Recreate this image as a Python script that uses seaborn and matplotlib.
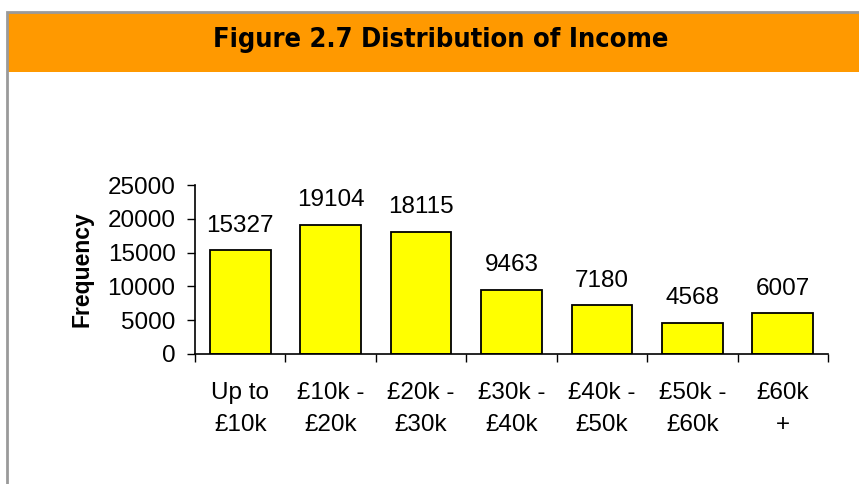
import matplotlib
matplotlib.use('Agg')
import matplotlib.pyplot as plt
import matplotlib.patches as mpatches
import pandas as pd
import seaborn as sns

# data
bands = ['Up to\n£10k', '£10k -\n£20k', '£20k -\n£30k', '£30k -\n£40k',
         '£40k -\n£50k', '£50k -\n£60k', '£60k\n+']
counts = [15327, 19104, 18115, 9463, 7180, 4568, 6007]
y_ticks = [0, 5000, 10000, 15000, 20000, 25000]

df = pd.DataFrame({'band': bands, 'count': counts})

sns.set_style('white')
plt.rcParams['font.family'] = ['Liberation Sans', 'DejaVu Sans']
plt.rcParams['text.color'] = 'black'
plt.rcParams['axes.labelcolor'] = 'black'
plt.rcParams['xtick.color'] = 'black'
plt.rcParams['ytick.color'] = 'black'

fig = plt.figure(figsize=(8.59, 4.84), dpi=100)
W, H = 859, 484

# orange header band, then grey frame on top of it
fig.patches.append(mpatches.Rectangle((8 / W, 1 - 72 / H), 1.0, 60 / H,
                                      transform=fig.transFigure,
                                      facecolor='#ff9900', edgecolor='none',
                                      zorder=0))
fig.patches.append(mpatches.Rectangle((7 / W, -0.1), 1.2, 1 - 12 / H + 0.1,
                                      transform=fig.transFigure, fill=False,
                                      edgecolor='#9a9a9a', linewidth=2,
                                      zorder=1))
fig.text(441 / W, 1 - 40 / H, 'Figure 2.7 Distribution of Income',
         ha='center', va='center', fontsize=19.5, fontweight='bold',
         family='DejaVu Sans', fontstretch='condensed', color='black')

ax = fig.add_axes([195 / W, 1 - 354 / H, 633 / W, 169 / H])
sns.barplot(data=df, x='band', y='count', ax=ax, color='#ffff00',
            edgecolor='black', linewidth=1.3, width=0.67, saturation=1)

for i, v in enumerate(counts):
    ax.annotate(str(v), (i, v), xytext=(0, 10), textcoords='offset points',
                ha='center', va='bottom', fontsize=17.5)

ax.set_ylim(0, 25000)
ax.set_xlim(-0.5, len(bands) - 0.5)
ax.set_yticks(y_ticks)
ax.set_yticklabels([str(t) for t in y_ticks], fontsize=17.5)
ax.set_xticks(range(len(bands)))
ax.set_xticklabels(bands, fontsize=17.5, linespacing=1.6)
ax.set_xticks([i - 0.5 for i in range(len(bands) + 1)], minor=True)
ax.tick_params(axis='x', which='major', length=0, pad=20)
ax.tick_params(axis='x', which='minor', length=6, width=1, color='black',
               direction='out', bottom=True)
ax.tick_params(axis='y', length=6, width=1, color='black', direction='out',
               left=True, pad=8)
ax.set_xlabel('')
ax.set_ylabel('Frequency', fontsize=16.5, fontweight='bold', labelpad=10)
for s in ['top', 'right']:
    ax.spines[s].set_visible(False)
for s in ['left', 'bottom']:
    ax.spines[s].set_color('black')
    ax.spines[s].set_linewidth(1.2)

fig.savefig('out.png', dpi=100)
